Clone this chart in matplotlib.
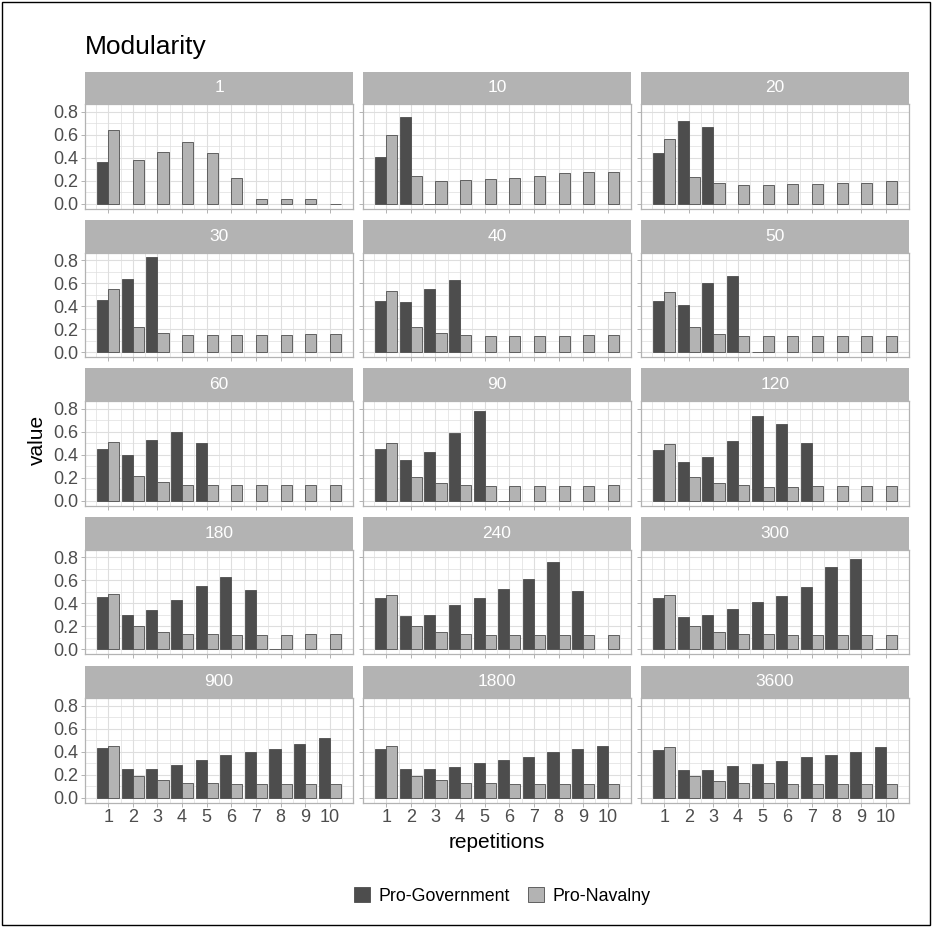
import matplotlib
matplotlib.use("Agg")
import matplotlib.pyplot as plt
from matplotlib.patches import Patch, Rectangle

plt.rcParams['font.family'] = ['Liberation Sans', 'DejaVu Sans']

# data: modularity per repetition, one pair of lists per time window
repetitions = [1, 2, 3, 4, 5, 6, 7, 8, 9, 10]
windows = ['1', '10', '20', '30', '40', '50', '60', '90', '120', '180', '240', '300', '900', '1800', '3600']
series_names = ['Pro-Government', 'Pro-Navalny']

gov_1 = [0.36, None, None, None, None, None, None, None, None, None]
nav_1 = [0.64, 0.38, 0.45, 0.54, 0.44, 0.22, 0.04, 0.04, 0.04, 0.0]
gov_10 = [0.41, 0.75, 0.0, None, None, None, None, None, None, None]
nav_10 = [0.60, 0.24, 0.195, 0.205, 0.215, 0.225, 0.245, 0.265, 0.28, 0.28]
gov_20 = [0.44, 0.72, 0.67, None, None, None, None, None, None, None]
nav_20 = [0.565, 0.235, 0.178, 0.166, 0.166, 0.169, 0.172, 0.18, 0.184, 0.195]
gov_30 = [0.45, 0.64, 0.826, None, None, None, None, None, None, None]
nav_30 = [0.547, 0.222, 0.167, 0.153, 0.150, 0.153, 0.153, 0.153, 0.155, 0.161]
gov_40 = [0.446, 0.437, 0.553, 0.630, None, None, None, None, None, None]
nav_40 = [0.532, 0.222, 0.164, 0.147, 0.144, 0.144, 0.144, 0.145, 0.147, 0.147]
gov_50 = [0.449, 0.414, 0.599, 0.662, 0.0, None, None, None, None, None]
nav_50 = [0.524, 0.219, 0.161, 0.144, 0.141, 0.138, 0.138, 0.141, 0.141, 0.141]
gov_60 = [0.450, 0.401, 0.525, 0.596, 0.502, None, None, None, None, None]
nav_60 = [0.513, 0.212, 0.161, 0.141, 0.138, 0.135, 0.135, 0.135, 0.138, 0.141]
gov_90 = [0.453, 0.353, 0.421, 0.588, 0.780, 0.0, None, None, None, None]
nav_90 = [0.499, 0.209, 0.155, 0.138, 0.129, 0.129, 0.126, 0.129, 0.132, 0.135]
gov_120 = [0.442, 0.338, 0.381, 0.516, 0.740, 0.668, 0.502, None, None, None]
nav_120 = [0.493, 0.206, 0.152, 0.135, 0.123, 0.120, 0.126, 0.129, 0.129, 0.129]
gov_180 = [0.453, 0.298, 0.338, 0.427, 0.551, 0.631, 0.519, 0.0, None, None]
nav_180 = [0.482, 0.201, 0.152, 0.135, 0.129, 0.120, 0.126, 0.126, 0.129, 0.129]
gov_240 = [0.447, 0.292, 0.298, 0.381, 0.444, 0.525, 0.614, 0.757, 0.505, None]
nav_240 = [0.473, 0.204, 0.152, 0.135, 0.126, 0.126, 0.123, 0.123, 0.123, 0.126]
gov_300 = [0.447, 0.278, 0.295, 0.350, 0.410, 0.465, 0.542, 0.711, 0.789, 0.0]
nav_300 = [0.473, 0.198, 0.149, 0.135, 0.129, 0.123, 0.120, 0.120, 0.120, 0.120]
gov_900 = [0.43, 0.25, 0.25, 0.285, 0.33, 0.37, 0.40, 0.42, 0.465, 0.52]
nav_900 = [0.45, 0.19, 0.15, 0.13, 0.125, 0.12, 0.12, 0.12, 0.12, 0.12]
gov_1800 = [0.42, 0.25, 0.25, 0.27, 0.30, 0.33, 0.355, 0.40, 0.42, 0.45]
nav_1800 = [0.45, 0.185, 0.15, 0.13, 0.125, 0.12, 0.12, 0.12, 0.12, 0.12]
gov_3600 = [0.415, 0.245, 0.245, 0.275, 0.295, 0.32, 0.35, 0.375, 0.40, 0.445]
nav_3600 = [0.445, 0.185, 0.145, 0.13, 0.125, 0.12, 0.12, 0.12, 0.12, 0.12]

gov_all = [gov_1, gov_10, gov_20, gov_30, gov_40, gov_50, gov_60, gov_90,
           gov_120, gov_180, gov_240, gov_300, gov_900, gov_1800, gov_3600]
nav_all = [nav_1, nav_10, nav_20, nav_30, nav_40, nav_50, nav_60, nav_90,
           nav_120, nav_180, nav_240, nav_300, nav_900, nav_1800, nav_3600]

# look
W, H = 932, 927
dark = '#4d4d4d'
light = '#b3b3b3'
grid_col = '#dedede'
border_col = '#b3b3b3'
bar_w = 0.45

fig = plt.figure(figsize=(W / 100, H / 100), dpi=100)

col_left = [85, 363, 641]
panel_w = 268
row_top = [71.5, 220, 368.5, 517, 665.5]
strip_h = 32.5
panel_h = 104.5

ymax = 0.826 * 1.05
ymin = -0.826 * 0.05


def to_fig(x, y, w, h):
    # pixel box (top-left origin) -> figure fraction
    return [x / W, 1 - (y + h) / H, w / W, h / H]


for i, name in enumerate(windows):
    r, c = divmod(i, 3)
    x0 = col_left[c]
    y0 = row_top[r]

    # strip
    sax = fig.add_axes(to_fig(x0, y0, panel_w, strip_h))
    sax.set_facecolor(light)
    sax.set_xticks([])
    sax.set_yticks([])
    for s in sax.spines.values():
        s.set_visible(False)
    sax.text(0.5, 0.5, name, color='white', fontsize=12.5,
             ha='center', va='center', transform=sax.transAxes)

    # panel
    ax = fig.add_axes(to_fig(x0, y0 + strip_h, panel_w, panel_h))
    gx, gh = [], []
    nx, nh = [], []
    for rep, g, n in zip(repetitions, gov_all[i], nav_all[i]):
        if g is not None:
            gx.append(rep - bar_w / 2)
            gh.append(g)
        if n is not None:
            nx.append(rep + bar_w / 2)
            nh.append(n)
    ax.bar(gx, gh, width=bar_w, color=dark, edgecolor=dark, linewidth=0.6, zorder=3)
    ax.bar(nx, nh, width=bar_w, color=light, edgecolor=dark, linewidth=0.6, zorder=3)

    ax.set_xlim(0.055, 10.945)
    ax.set_ylim(ymin, ymax)
    ax.set_xticks(repetitions)
    ax.set_xticks([x + 0.5 for x in range(0, 11)], minor=True)
    ax.set_yticks([0.0, 0.2, 0.4, 0.6, 0.8])
    ax.set_yticks([0.1, 0.3, 0.5, 0.7], minor=True)
    ax.grid(which='major', color=grid_col, linewidth=0.8, zorder=0)
    ax.grid(which='minor', color=grid_col, linewidth=0.5, zorder=0)
    ax.set_axisbelow(True)
    for s in ax.spines.values():
        s.set_color(border_col)
        s.set_linewidth(0.9)
    ax.tick_params(which='major', length=3, width=0.7, color=border_col,
                   labelsize=13, labelcolor='#4d4d4d', pad=2)
    ax.tick_params(which='minor', length=0)

    if c == 0:
        ax.set_yticklabels(['0.0', '0.2', '0.4', '0.6', '0.8'])
    else:
        ax.tick_params(axis='y', labelleft=False)
    if r == 4:
        ax.set_xticklabels([str(x) for x in repetitions])
    else:
        ax.tick_params(axis='x', labelbottom=False)

# titles and labels
fig.text(85 / W, 1 - 47 / H, 'Modularity', fontsize=19, ha='left', va='center')
fig.text(497 / W, 1 - 843 / H, 'repetitions', fontsize=15, ha='center', va='center')
fig.text(37 / W, 1 - 440 / H, 'value', fontsize=15, ha='center', va='center', rotation=90)

handles = [Patch(facecolor=dark, edgecolor=dark, linewidth=0.6),
           Patch(facecolor=light, edgecolor=dark, linewidth=0.6)]
fig.legend(handles, series_names, loc='center', bbox_to_anchor=(502 / W, 1 - 896 / H),
           ncol=2, frameon=False, fontsize=12.8, handlelength=0.95, handleheight=0.95,
           handletextpad=0.45, columnspacing=1.0)

# outer frame
fig.patches.append(Rectangle((0.002, 0.002), 0.996, 0.996, transform=fig.transFigure,
                             fill=False, edgecolor='black', linewidth=1.0))

fig.savefig('out.png', dpi=100)
